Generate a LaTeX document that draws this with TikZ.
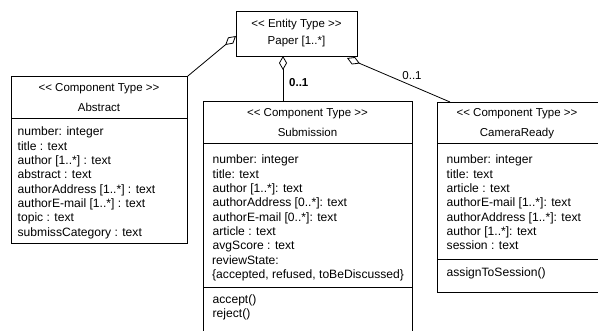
\documentclass[tikz,border=0pt]{standalone}
\usepackage{fontspec}
\setmainfont{Liberation Sans}[Ligatures=TeXOff]
\usetikzlibrary{arrows.meta}
\begin{document}
\begin{tikzpicture}[x=1pt,y=-1pt,
  box/.style={draw, line width=0.9pt, inner sep=0pt, anchor=north west},
  sep/.style={line width=0.9pt},
  lbl/.style={font=\fontsize{11.5}{14.3}\selectfont, inner sep=0pt},
  row/.style={inner sep=0pt, font=\fontsize{12.1}{14.3}\selectfont, anchor=base west},
  head/.style={lbl, anchor=base},
  agg/.style={line width=0.8pt, {Diamond[open,length=14pt,width=8pt]}-}]
\useasboundingbox (0,0) rectangle (598,331);
\clip (0,0) rectangle (598,331);
% Paper
\node[box, minimum width=121pt, minimum height=45pt] (paper) at (236,11) {};
\node[head] (paperA) at (296.5,28) {<< Entity Type >>};
\node[head] (paperB) at (296.5,45) {Paper [1..*]};
% Abstract
\node[box, minimum width=176pt, minimum height=167pt] (abs) at (11,76) {};
\node[head] (absA) at (99,92) {<< Component Type >>};
\node[head] (absB) at (99,112) {Abstract};
\draw[sep] (11,118) coordinate (absS1) -- (187,118) coordinate (absS2);
\foreach \t [count=\i] in {number: integer, title : text, author [1..*] : text, abstract : text, authorAddress [1..*] : text, authorE-mail [1..*] : text, topic : text, submissCategory : text}
  \node[row] (abs\i) at (17.5,{136+14.3*(\i-1)}) {\t};
% Submission
\node[box, minimum width=209pt, minimum height=240pt] (sub) at (203,101) {};
\node[head] (subA) at (307.5,117) {<< Component Type >>};
\node[head] (subB) at (307.5,137) {Submission};
\draw[sep] (203,143) coordinate (subS1) -- (412,143) coordinate (subS2);
\foreach \t [count=\i] in {number: integer, title: text, author [1..*]: text, authorAddress [0..*]: text, authorE-mail [0..*]: text, article : text, avgScore : text}
  \node[row] (sub\i) at (212.5,{164+14.3*(\i-1)}) {\t};
\node[row] (sub8) at (212,264.5) {reviewState:};
\node[row] (sub9) at (212,279) {\{accepted, refused, toBeDiscussed\}};
\draw[sep] (203,287.5) coordinate (subS3) -- (412,287.5) coordinate (subS4);
\node[row] (subM1) at (212.5,304) {accept()};
\node[row] (subM2) at (212.5,317.5) {reject()};
% CameraReady
\node[box, minimum width=162pt, minimum height=190pt] (cam) at (437,102) {};
\node[head] (camA) at (517,117) {<< Component Type >>};
\node[head] (camB) at (517,137) {CameraReady};
\draw[sep] (437,143) coordinate (camS1) -- (599,143) coordinate (camS2);
\foreach \t [count=\i] in {number: integer, title: text, article : text, authorE-mail [1..*]: text, authorAddress [1..*]: text, author [1..*]: text, session : text}
  \node[row] (cam\i) at (446.5,{164+14.3*(\i-1)}) {\t};
\draw[sep] (437,259) coordinate (camS3) -- (599,259) coordinate (camS4);
\node[row] (camM1) at (446.5,277) {assignToSession()};
% connectors
\coordinate (pl) at (236,36);
\coordinate (pm) at (283,56);
\coordinate (pr) at (347,58);
\coordinate (cr) at (450,102);
\draw[agg] (pl) -- (abs.north east);
\draw[agg] (pm) -- (pm |- sub.north);
\draw[agg] (pr) -- (cr);
\node[lbl, anchor=base west, font=\fontsize{11.5}{14}\selectfont\bfseries] (m1) at (289,87) {0..1};
\node[lbl, anchor=base] (m2) at (412,80) {0..1};
\end{tikzpicture}
\end{document}
